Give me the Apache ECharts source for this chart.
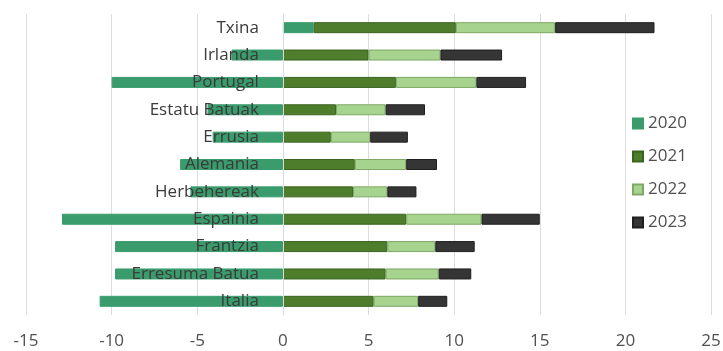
<!DOCTYPE html>
<html>
<head>
<meta charset="utf-8">
<script src="https://cdn.jsdelivr.net/npm/echarts@6/dist/echarts.min.js"></script>
<style>
  html, body { margin: 0; padding: 0; background: #fff; }
  #chart { width: 723px; height: 351px; }
</style>
</head>
<body>
<div id="chart"></div>
<script>
// Categories, top to bottom
const countries = ['Txina', 'Irlanda', 'Portugal', 'Estatu Batuak', 'Errusia', 'Alemania',
    'Herbehereak', 'Espainia', 'Frantzia', 'Erresuma Batua', 'Italia'];
const years = ['2020', '2021', '2022', '2023'];

// Values
const v2020 = [1.8, -3.0, -10.0, -4.4, -4.1, -6.0, -5.4, -12.9, -9.8, -9.8, -10.7];
const v2021 = [8.3, 5.0, 6.6, 3.1, 2.8, 4.2, 4.1, 7.2, 6.1, 6.0, 5.3];
const v2022 = [5.8, 4.2, 4.7, 2.9, 2.3, 3.0, 2.0, 4.4, 2.8, 3.1, 2.6];
const v2023 = [5.8, 3.6, 2.9, 2.3, 2.2, 1.8, 1.7, 3.4, 2.3, 1.9, 1.7];

const xTicks = { min: -15, max: 25, step: 5 };

const colors = ['#3a9c6c', '#4e7d2c', '#a6d38e', '#353535'];
const borders = ['#3a9c6c', '#3b6420', '#7ea866', '#1f1f1f'];
const allValues = [v2020, v2021, v2022, v2023];

// grid box
const gridLeft = 26, gridRight = 12, chartWidth = 723;
const plotWidth = chartWidth - gridLeft - gridRight;
// move the category axis onto x = 0
const zeroShift = plotWidth * (0 - xTicks.min) / (xTicks.max - xTicks.min);

const chart = echarts.init(document.getElementById('chart'));

const series = years.map(function (y, i) {
    return {
        name: y,
        type: 'bar',
        stack: 'total',
        barWidth: 11,
        data: allValues[i],
        itemStyle: {
            color: colors[i],
            borderColor: borders[i],
            borderWidth: 1
        }
    };
});

var option = {
    animation: false,
    textStyle: {
        fontFamily: 'Open Sans, Liberation Sans, sans-serif'
    },
    grid: {
        left: gridLeft,
        right: gridRight,
        top: 14,
        bottom: 36,
        containLabel: false,
        outerBoundsMode: 'none'
    },
    legend: {
        orient: 'vertical',
        left: 627,
        top: 110,
        itemWidth: 10,
        itemHeight: 10,
        itemGap: 16,
        icon: 'rect',
        textStyle: {
            color: '#505050',
            fontSize: 17
        },
        data: years
    },
    xAxis: {
        type: 'value',
        min: xTicks.min,
        max: xTicks.max,
        interval: xTicks.step,
        axisLine: { show: false },
        axisTick: { show: false },
        axisLabel: {
            color: '#505050',
            fontSize: 17,
            margin: 18
        },
        splitLine: {
            lineStyle: { color: '#dcdcdc' }
        }
    },
    yAxis: {
        type: 'category',
        inverse: true,
        data: countries,
        offset: -zeroShift,
        z: 5,
        axisLine: {
            onZero: false,
            lineStyle: { color: '#d9d9d9' }
        },
        axisTick: { show: false },
        axisLabel: {
            color: '#3a3a3a',
            fontSize: 17,
            margin: 24
        }
    },
    series: series
};

chart.setOption(option);
</script>
</body>
</html>
